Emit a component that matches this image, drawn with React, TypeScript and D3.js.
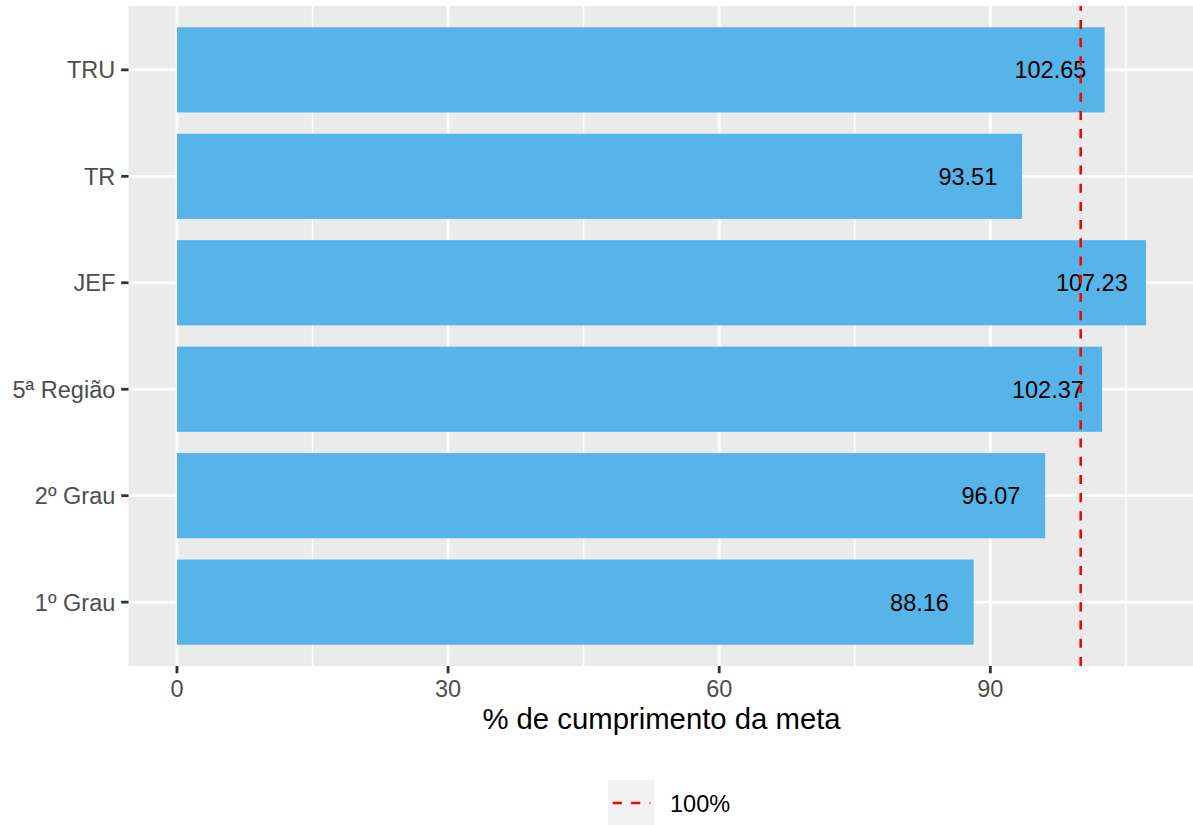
import React from "react";
import * as d3 from "d3";

const categories = ["TRU", "TR", "JEF", "5ª Região", "2º Grau", "1º Grau"];
const values = [102.65, 93.51, 107.23, 102.37, 96.07, 88.16];
const majorTicks = [0, 30, 60, 90];
const minorTicks = [15, 45, 75, 105];
const refValue = 100;
const labelOffset = 6;
const xTitle = "% de cumprimento da meta";
const legendLabel = "100%";

const W = 1193;
const H = 825;
const panel = { left: 128.5, right: 1194.5, top: 6, bottom: 666 };
const FONT = "'Liberation Sans', Arial, Helvetica, sans-serif";

export default function App() {
  const maxV = d3.max(values) as number;
  const expand = maxV * 0.05;
  const x = d3
    .scaleLinear()
    .domain([0 - expand, maxV + expand])
    .range([panel.left, panel.right]);
  const y = d3
    .scaleBand<string>()
    .domain(categories)
    .range([panel.top, panel.bottom])
    .paddingInner(0.2)
    .paddingOuter(0.2);
  const half = y.bandwidth() / 2;
  const cy = (c: string) => (y(c) as number) + half;

  return (
    <svg
      width={W}
      height={H}
      style={{ position: "absolute", left: 0, top: 0, background: "#fff" }}
      fontFamily={FONT}
    >
      <defs>
        <clipPath id="pclip">
          <rect x={panel.left} y={panel.top} width={panel.right - panel.left} height={panel.bottom - panel.top} />
        </clipPath>
      </defs>
      <rect
        x={panel.left}
        y={panel.top}
        width={panel.right - panel.left}
        height={panel.bottom - panel.top}
        fill="#EBEBEB"
      />
      <g clipPath="url(#pclip)">
        {minorTicks.map((t) => (
          <line key={"mi" + t} x1={x(t)} x2={x(t)} y1={panel.top} y2={panel.bottom} stroke="#fff" strokeWidth={1.4} />
        ))}
        {majorTicks.map((t) => (
          <line key={"ma" + t} x1={x(t)} x2={x(t)} y1={panel.top} y2={panel.bottom} stroke="#fff" strokeWidth={2.8} />
        ))}
        {categories.map((c) => (
          <line key={"hy" + c} x1={panel.left} x2={panel.right} y1={cy(c)} y2={cy(c)} stroke="#fff" strokeWidth={2.8} />
        ))}
        {categories.map((c, i) => (
          <rect
            key={"b" + c}
            x={x(0)}
            y={y(c) as number}
            width={x(values[i]) - x(0)}
            height={y.bandwidth()}
            fill="#56B4E9"
          />
        ))}
        {categories.map((c, i) => (
          <text
            key={"l" + c}
            x={x(values[i] - labelOffset)}
            y={cy(c) + 8.4}
            textAnchor="middle"
            fontSize={23.5}
            fill="#000"
          >
            {values[i].toFixed(2)}
          </text>
        ))}
        <line
          x1={x(refValue)}
          x2={x(refValue)}
          y1={panel.bottom}
          y2={panel.top}
          stroke="#FF0000"
          strokeWidth={2.6}
          strokeDasharray="9.1 9.1"
        />
      </g>
      {/* y axis */}
      {categories.map((c) => (
        <g key={"yt" + c}>
          <line x1={panel.left - 7.3} x2={panel.left} y1={cy(c)} y2={cy(c)} stroke="#333333" strokeWidth={2.8} />
          <text x={panel.left - 7.3 - 5.9} y={cy(c) + 8.4} textAnchor="end" fontSize={23.5} fill="#4D4D4D">
            {c}
          </text>
        </g>
      ))}
      {/* x axis */}
      {majorTicks.map((t) => (
        <g key={"xt" + t}>
          <line x1={x(t)} x2={x(t)} y1={panel.bottom} y2={panel.bottom + 7.3} stroke="#333333" strokeWidth={2.8} />
          <text x={x(t)} y={696.5} textAnchor="middle" fontSize={23.5} fill="#4D4D4D">
            {t}
          </text>
        </g>
      ))}
      <text x={(panel.left + panel.right) / 2} y={729.3} textAnchor="middle" fontSize={29.3} fill="#000">
        {xTitle}
      </text>
      {/* legend */}
      <rect x={608} y={780} width={46.5} height={46} fill="#F2F2F2" />
      <line x1={612.7} x2={650.3} y1={803} y2={803} stroke="#FF0000" strokeWidth={2.6} strokeDasharray="9.2 9.2" />
      <text x={670} y={811.5} fontSize={23.5} fill="#000">
        {legendLabel}
      </text>
    </svg>
  );
}
